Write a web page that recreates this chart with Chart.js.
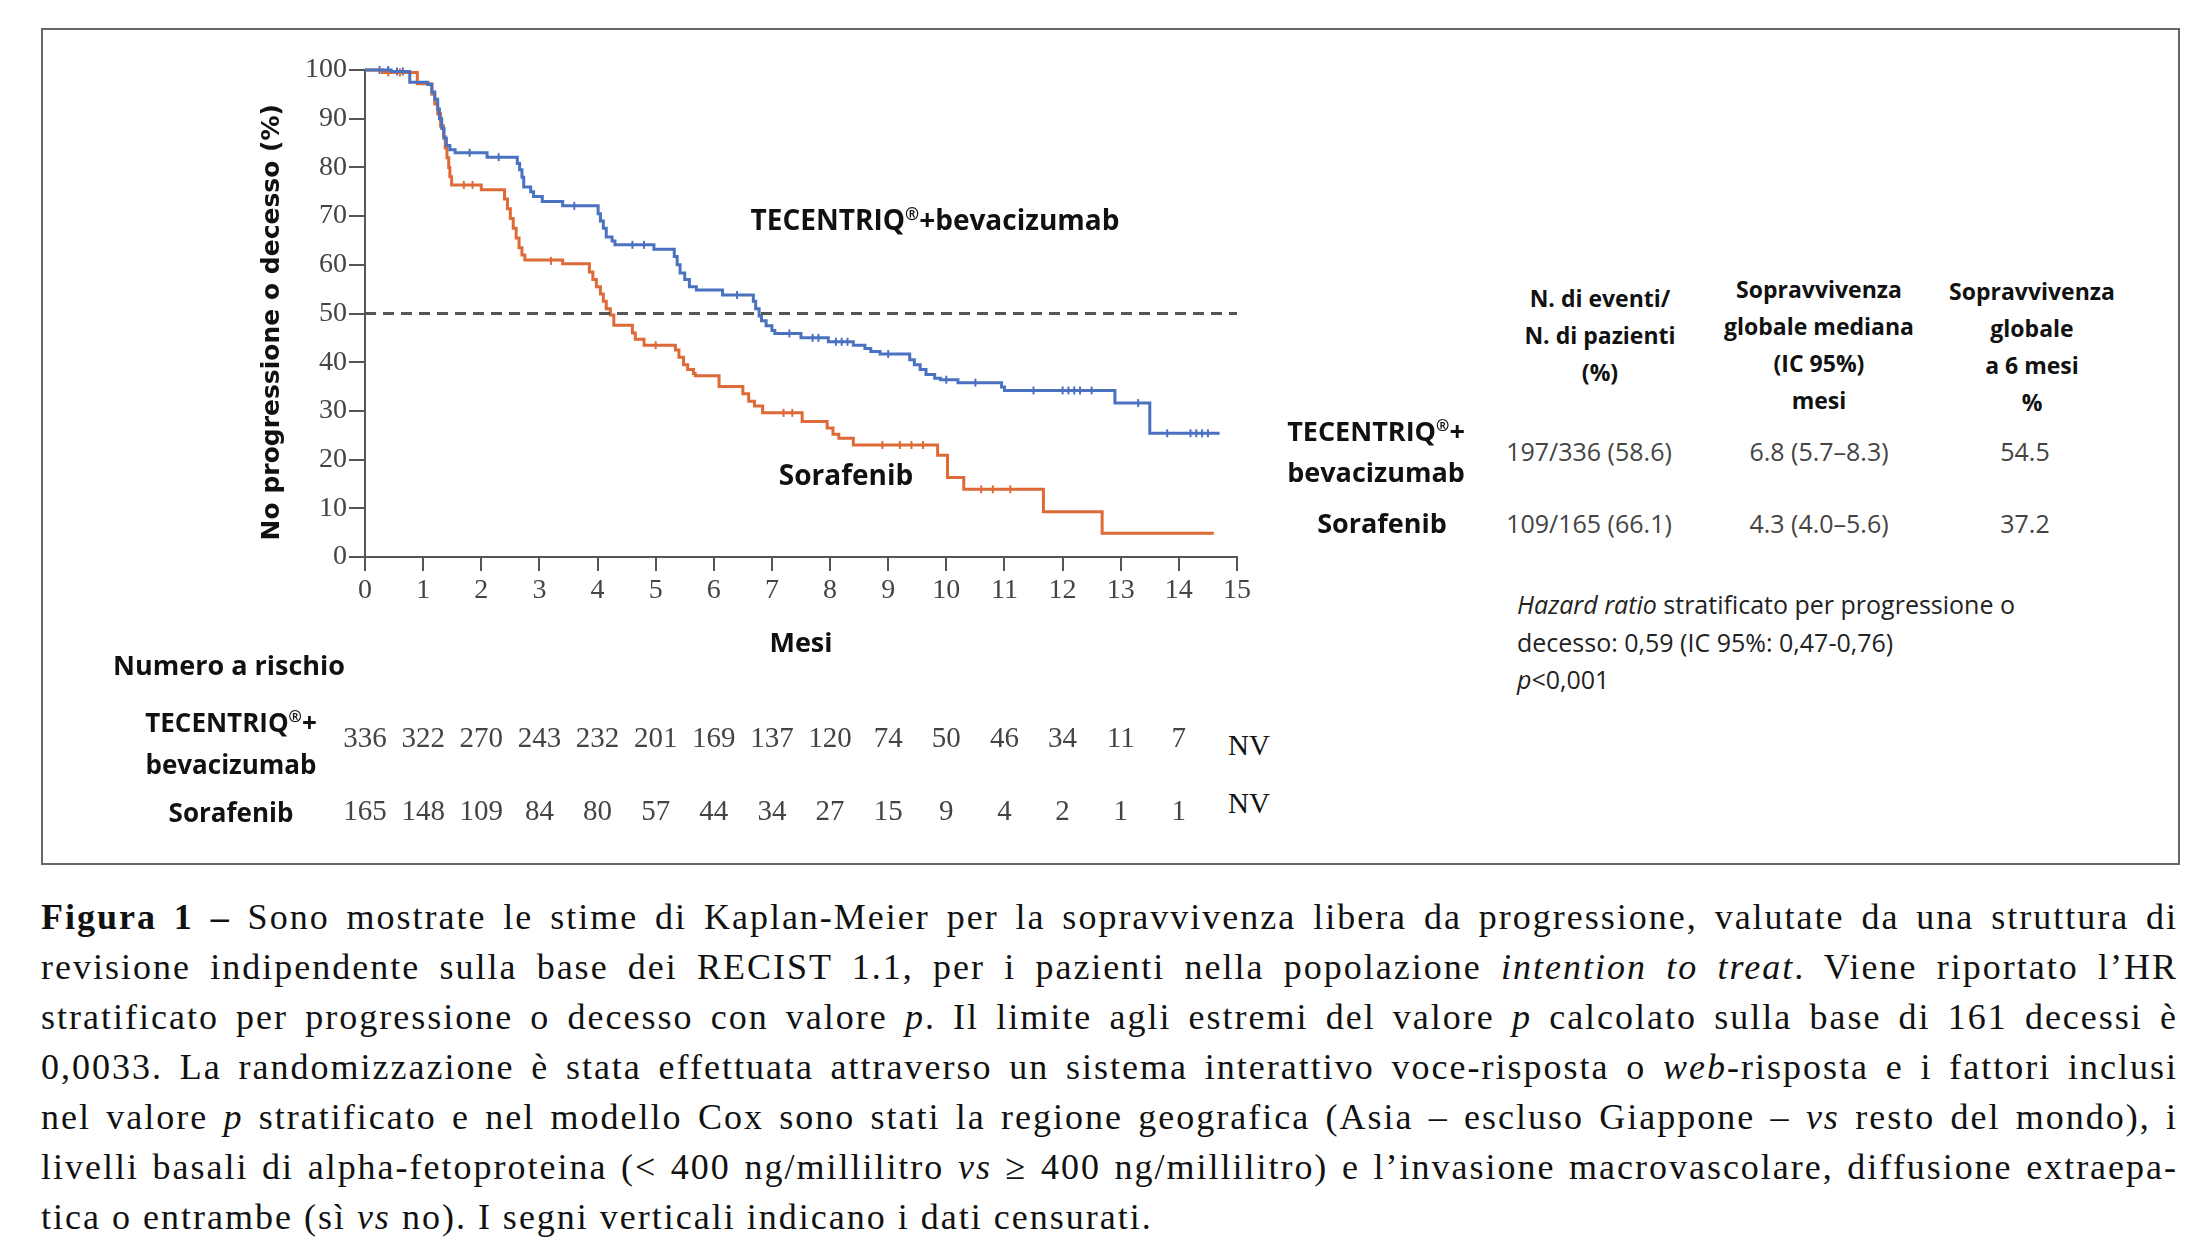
<!DOCTYPE html>
<html lang="it">
<head>
<meta charset="utf-8">
<title>Figura 1 - Kaplan-Meier PFS</title>
<script src="https://cdn.jsdelivr.net/npm/chart.js@4.4.1/dist/chart.umd.min.js"></script>
<style>
  html, body { margin: 0; padding: 0; background: #fff; }
  body { width: 2199px; height: 1253px; position: relative; overflow: hidden; }
  #frame { position: absolute; left: 41px; top: 28px; width: 2135px; height: 833px; border: 2px solid #666; }
  #wrap { position: absolute; left: 0; top: 0; width: 1300px; height: 700px; }
  .t { position: absolute; white-space: nowrap; font-family: "Open Sans", "Noto Sans", sans-serif; color: #111; }
  .b { font-weight: 700; }
  .c { transform: translate(-50%, -50%); text-align: center; }
  .lm { transform: translate(0, -50%); }
  .num { font-family: "Liberation Serif", "DejaVu Serif", serif; color: #444; font-size: 29px; }
  .hd { font-size: 23px; line-height: 37px; }
  .val { font-family: "Open Sans", sans-serif; color: #444; font-size: 25px; }
  #caption { position: absolute; left: 41px; top: 892px; width: 2137px; font-family: "Liberation Serif", "DejaVu Serif", serif; font-size: 36px; line-height: 50px; color: #111; }
  #caption div { text-align: justify; text-align-last: justify; white-space: nowrap; }
  #caption div.last { text-align-last: left; }
</style>
</head>
<body>
<div id="frame"></div>
<div id="wrap"><canvas id="km"></canvas></div>

<!-- curve labels -->
<div class="t b c" style="left:935px;top:219px;font-size:28px;">TECENTRIQ<sup style="font-size:17px">®</sup>+bevacizumab</div>
<div class="t b c" style="left:846px;top:474px;font-size:28px;">Sorafenib</div>

<!-- number at risk -->
<div class="t b lm" style="left:113px;top:664px;font-size:27px;">Numero a rischio</div>
<div class="t b c" style="left:231px;top:740px;font-size:26px;line-height:42px;">TECENTRIQ<sup style="font-size:16px">®</sup>+<br>bevacizumab</div>
<div class="t b c" style="left:231px;top:812px;font-size:26px;">Sorafenib</div>
<div id="risk"></div>

<!-- summary table -->
<div class="t b c hd" style="left:1600px;top:335px;">N. di eventi/<br>N. di pazienti<br>(%)</div>
<div class="t b c hd" style="left:1819px;top:345px;">Sopravvivenza<br>globale mediana<br>(IC 95%)<br>mesi</div>
<div class="t b c hd" style="left:2032px;top:347px;">Sopravvivenza<br>globale<br>a 6 mesi<br>%</div>
<div class="t b c" style="left:1376px;top:448px;font-size:27px;line-height:41px;">TECENTRIQ<sup style="font-size:16px">®</sup>+<br>bevacizumab</div>
<div class="t b c" style="left:1382px;top:522px;font-size:27px;">Sorafenib</div>
<div class="t c val" style="left:1589px;top:451px;">197/336 (58.6)</div>
<div class="t c val" style="left:1819px;top:451px;">6.8 (5.7–8.3)</div>
<div class="t c val" style="left:2025px;top:451px;">54.5</div>
<div class="t c val" style="left:1589px;top:523px;">109/165 (66.1)</div>
<div class="t c val" style="left:1819px;top:523px;">4.3 (4.0–5.6)</div>
<div class="t c val" style="left:2025px;top:523px;">37.2</div>
<div class="t" style="left:1517px;top:586px;font-size:25px;line-height:37.5px;color:#222;">
  <i>Hazard ratio</i> stratificato per progressione o<br>decesso: 0,59 (IC 95%: 0,47-0,76)<br><i>p</i>&lt;0,001
</div>

<div id="caption">
  <div><b>Figura 1 –</b> Sono mostrate le stime di Kaplan-Meier per la sopravvivenza libera da progressione, valutate da una struttura di</div>
  <div>revisione indipendente sulla base dei RECIST 1.1, per i pazienti nella popolazione <i>intention to treat</i>. Viene riportato l’HR</div>
  <div>stratificato per progressione o decesso con valore <i>p</i>. Il limite agli estremi del valore <i>p</i> calcolato sulla base di 161 decessi è</div>
  <div>0,0033. La randomizzazione è stata effettuata attraverso un sistema interattivo voce-risposta o <i>web</i>-risposta e i fattori inclusi</div>
  <div>nel valore <i>p</i> stratificato e nel modello Cox sono stati la regione geografica (Asia – escluso Giappone – <i>vs</i> resto del mondo), i</div>
  <div>livelli basali di alpha-fetoproteina (&lt; 400 ng/millilitro <i>vs</i> ≥ 400 ng/millilitro) e l’invasione macrovascolare, diffusione extraepa-</div>
  <div class="last">tica o entrambe (sì <i>vs</i> no). I segni verticali indicano i dati censurati.</div>
</div>

<script>
// Kaplan-Meier step data (months, % without progression or death)
const tecTimes = [0, 0.45, 0.77, 1.08, 1.15, 1.2, 1.25, 1.28, 1.32, 1.36, 1.4, 1.46, 1.55, 2.1, 2.62, 2.66, 2.7, 2.73, 2.85, 2.9,
    3.05, 3.4, 4.01, 4.05, 4.1, 4.15, 4.25, 4.3, 4.97, 5.32, 5.37, 5.42, 5.5, 5.58, 5.7, 6.15, 6.68, 6.72, 6.78, 6.82,
    6.9, 7.0, 7.05, 7.5, 7.97, 8.4, 8.6, 8.7, 8.86, 9.37, 9.45, 9.55, 9.65, 9.8, 9.9, 10.2, 10.95, 11.0, 12.9, 13.5, 14.7];
const tecSurv = [100, 99.7, 97.5, 97.0, 95.5, 94, 92, 90, 88, 86, 84.5, 83.6, 83.0, 82.1, 80.8, 79.5, 78, 76, 75, 74,
    73, 72.1, 70.5, 69, 67.5, 65.7, 64.9, 64.1, 63.2, 61.7, 60, 58.3, 57, 55.5, 54.8, 53.8, 52.5, 51, 49.5, 48.5,
    47.5, 46.5, 45.9, 45.0, 44.2, 43.5, 42.8, 42.2, 41.7, 40.5, 39.5, 38.5, 37.5, 36.7, 36.4, 35.8, 34.9, 34.2, 31.6, 25.4, 25.4];

const sorTimes = [0, 0.3, 0.9, 1.15, 1.2, 1.25, 1.3, 1.35, 1.38, 1.41, 1.44, 1.46, 1.49, 2.0, 2.4, 2.45, 2.5, 2.55, 2.6, 2.65,
    2.7, 2.75, 3.4, 3.86, 3.92, 3.98, 4.05, 4.1, 4.15, 4.22, 4.28, 4.6, 4.65, 4.8, 5.34, 5.4, 5.48, 5.55, 5.65, 5.68,
    6.09, 6.5, 6.6, 6.7, 6.84, 7.52, 7.95, 8.05, 8.15, 8.4, 9.85, 10.02, 10.3, 11.67, 12.68, 14.6];
const sorSurv = [100, 99.5, 97.2, 95, 93, 91, 88.5, 86.3, 84, 82, 80, 78.1, 76.4, 75.4, 73.5, 71.5, 69.5, 67.5, 65.5, 63.5,
    62, 61.0, 60.2, 58.5, 57, 55.5, 54, 52.5, 51, 49.7, 47.6, 46, 44.7, 43.5, 42.5, 41, 39.5, 38.5, 37.7, 37.2,
    35.0, 33.5, 32, 31, 29.6, 27.8, 26.5, 25.2, 24.4, 23.0, 20.9, 16.3, 13.9, 9.3, 4.9, 4.9];

// censored observations (vertical ticks)
const tecCensorTimes = [0.25, 0.4, 0.55, 0.65, 1.8, 2.3, 3.6, 4.6, 4.8, 6.4, 7.3, 7.7, 7.8, 8.1, 8.2, 8.3, 9.0, 10.0, 10.5,
    11.5, 12.0, 12.1, 12.2, 12.3, 12.5, 13.3, 13.8, 14.2, 14.3, 14.4, 14.5];
const tecCensorSurv = [100, 100, 99.7, 99.7, 83.0, 82.1, 72.1, 64.1, 64.1, 53.8, 45.9, 45.0, 45.0, 44.2, 44.2, 44.2, 41.7, 36.4, 35.8,
    34.2, 34.2, 34.2, 34.2, 34.2, 34.2, 31.6, 25.4, 25.4, 25.4, 25.4, 25.4];
const sorCensorTimes = [0.4, 0.6, 1.7, 1.85, 3.2, 5.0, 7.2, 7.35, 8.9, 9.2, 9.4, 9.6, 10.6, 10.8, 11.1];
const sorCensorSurv = [99.5, 99.5, 76.4, 76.4, 60.8, 43.5, 29.6, 29.6, 23.0, 23.0, 23.0, 23.0, 13.9, 13.9, 13.9];

// axis ticks and number at risk
const monthTicks = [0, 1, 2, 3, 4, 5, 6, 7, 8, 9, 10, 11, 12, 13, 14, 15];
const percentTicks = [0, 10, 20, 30, 40, 50, 60, 70, 80, 90, 100];
const tecAtRisk = [336, 322, 270, 243, 232, 201, 169, 137, 120, 74, 50, 46, 34, 11, 7];
const sorAtRisk = [165, 148, 109, 84, 80, 57, 44, 34, 27, 15, 9, 4, 2, 1, 1];
const medianLine = [50, 50];

const BLUE = '#4a72c0';
const ORANGE = '#de6a37';
const AXIS = '#555';

const pairs = (xs, ys) => xs.map((x, i) => ({ x: x, y: ys[i] }));

// widen the caption letters a little so the lines fill like the printed serif
function fitCaption() {
    const width = 2137;
    document.querySelectorAll('#caption div').forEach(div => {
        const span = document.createElement('span');
        while (div.firstChild) span.appendChild(div.firstChild);
        div.appendChild(span);
        div.style.textAlign = 'left';
        div.style.textAlignLast = 'left';
        const natural = span.getBoundingClientRect().width;
        const chars = span.textContent.trim().length;
        let ls = 2.0;
        if (!div.classList.contains('last')) {
            ls = Math.max(0, Math.min(2.0, (width - 40 - natural) / chars));
            div.style.textAlign = '';
            div.style.textAlignLast = '';
        }
        span.style.letterSpacing = ls.toFixed(2) + 'px';
    });
}
fitCaption();

// number-at-risk rows placed through the x scale
const riskTable = {
    id: 'riskTable',
    afterDraw(chart) {
        const xs = chart.scales.x;
        const box = document.getElementById('risk');
        box.innerHTML = '';
        const rows = [[tecAtRisk, 737], [sorAtRisk, 810]];
        rows.forEach(([vals, top]) => {
            vals.forEach((v, i) => {
                const d = document.createElement('div');
                d.className = 't c num';
                d.style.left = xs.getPixelForValue(monthTicks[i]) + 'px';
                d.style.top = top + 'px';
                d.textContent = v;
                box.appendChild(d);
            });
        });
        [745, 803].forEach(top => {
            const nv = document.createElement('div');
            nv.className = 't c num';
            nv.style.color = '#111';
            nv.style.left = (xs.getPixelForValue(15) + 12) + 'px';
            nv.style.top = top + 'px';
            nv.textContent = 'NV';
            box.appendChild(nv);
        });
    }
};

const tickFont = { family: '"Liberation Serif", "DejaVu Serif", serif', size: 28 };

new Chart(document.getElementById('km'), {
    type: 'line',
    data: {
        datasets: [
            {
                label: 'median',
                data: pairs([0, 15], medianLine),
                borderColor: '#555',
                borderWidth: 3,
                borderDash: [11, 7],
                pointRadius: 0
            },
            {
                label: 'TECENTRIQ®+bevacizumab',
                data: pairs(tecTimes, tecSurv),
                borderColor: BLUE,
                borderWidth: 3,
                pointRadius: 0,
                stepped: 'before',
                clip: 8
            },
            {
                label: 'Sorafenib',
                data: pairs(sorTimes, sorSurv),
                borderColor: ORANGE,
                borderWidth: 3,
                pointRadius: 0,
                stepped: 'before',
                clip: 8
            },
            {
                label: 'tec censor',
                type: 'scatter',
                data: pairs(tecCensorTimes, tecCensorSurv),
                borderColor: BLUE,
                backgroundColor: BLUE,
                pointStyle: 'line',
                rotation: 90,
                pointRadius: 4,
                borderWidth: 2,
                clip: 8
            },
            {
                label: 'sor censor',
                type: 'scatter',
                data: pairs(sorCensorTimes, sorCensorSurv),
                borderColor: ORANGE,
                backgroundColor: ORANGE,
                pointStyle: 'line',
                rotation: 90,
                pointRadius: 4,
                borderWidth: 2,
                clip: 8
            }
        ]
    },
    options: {
        responsive: true,
        maintainAspectRatio: false,
        animation: false,
        devicePixelRatio: 1,
        layout: { padding: { left: 240, right: 63, top: 70, bottom: 0 } },
        plugins: {
            legend: { display: false },
            tooltip: { enabled: false }
        },
        scales: {
            x: {
                type: 'linear',
                min: 0,
                max: 15,
                afterBuildTicks(scale) { scale.ticks = monthTicks.map(v => ({ value: v })); },
                afterFit(scale) { scale.height = 143; },
                grid: { drawOnChartArea: false, tickLength: 14, color: AXIS, lineWidth: 2 },
                border: { color: AXIS, width: 2 },
                ticks: { color: '#444', font: tickFont, padding: 3, maxRotation: 0, autoSkip: false },
                title: {
                    display: true,
                    text: 'Mesi',
                    color: '#111',
                    font: { family: '"Open Sans", sans-serif', size: 27, weight: 'bold' },
                    padding: { top: 0, bottom: 39 }
                }
            },
            y: {
                type: 'linear',
                min: 0,
                max: 100,
                afterBuildTicks(scale) { scale.ticks = percentTicks.map(v => ({ value: v })); },
                afterFit(scale) { scale.width = 125; },
                grid: { drawOnChartArea: false, tickLength: 16, color: AXIS, lineWidth: 2 },
                border: { color: AXIS, width: 2 },
                ticks: { color: '#444', font: tickFont, padding: 2, autoSkip: false },
                title: {
                    display: true,
                    // two trailing spaces nudge the rotated title down a little, as in the print
                    text: 'No progressione o decesso (%)  ',
                    color: '#111',
                    font: { family: '"DejaVu Sans", sans-serif', size: 25, weight: 'bold' },
                    padding: { top: 17, bottom: 0 }
                }
            }
        }
    },
    plugins: [riskTable]
});
</script>
</body>
</html>
